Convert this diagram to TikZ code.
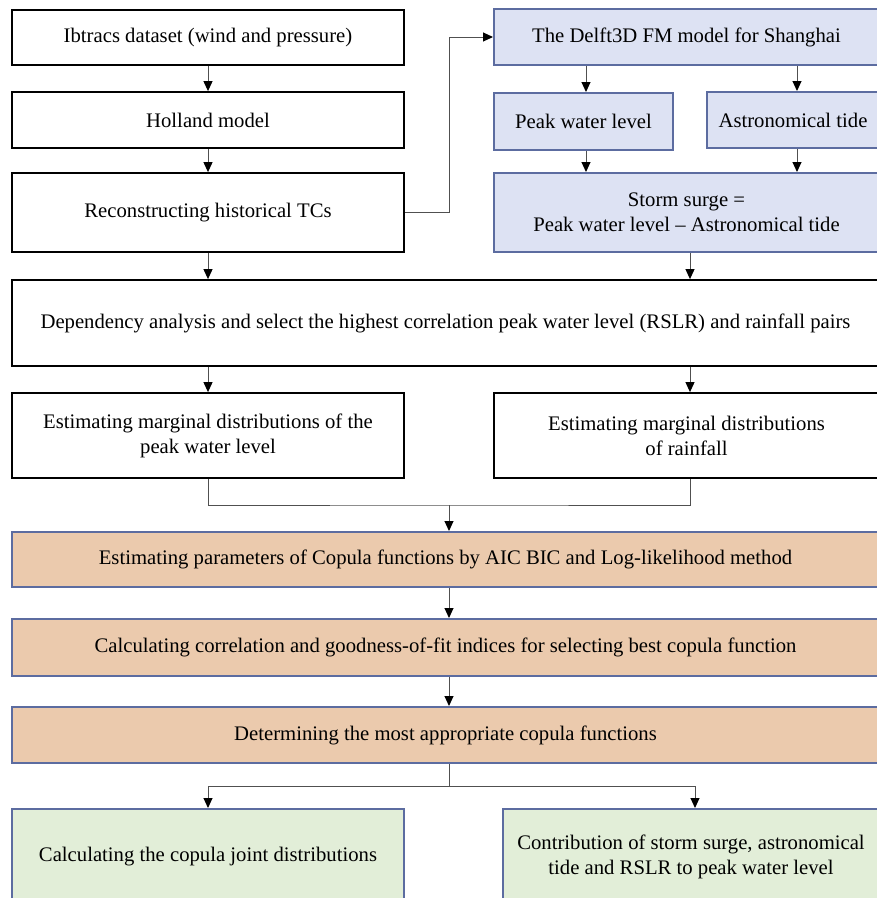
\documentclass[tikz,border=0pt]{standalone}
\usepackage{fontspec}
\setmainfont{Liberation Serif}
\usepackage{tikz}
\usetikzlibrary{calc, positioning, arrows.meta}
\definecolor{FrameBlue}{RGB}{92,108,160}
\definecolor{ModelBlue}{RGB}{221,226,243}
\definecolor{CopulaTan}{RGB}{235,202,173}
\definecolor{ResultGreen}{RGB}{226,238,216}
\definecolor{lineGrey}{RGB}{80,80,80}

\begin{document}
\begin{tikzpicture}[
  x=1pt, y=-1pt,
  font=\fontsize{20.7}{25}\selectfont,
  plainbox/.style={draw=black, line width=1.8pt, fill=white, inner sep=0pt, align=center},
  modelbox/.style={draw=FrameBlue, line width=2pt, fill=ModelBlue, inner sep=0pt, align=center},
  copulabox/.style={draw=FrameBlue, line width=2pt, fill=CopulaTan, inner sep=0pt, align=center},
  resultbox/.style={draw=FrameBlue, line width=2pt, fill=ResultGreen, inner sep=0pt, align=center},
  link/.style={draw=lineGrey, line width=1pt},
  arr/.style={link, -{Triangle[length=10pt,width=9pt,color=black]}},
]
\useasboundingbox (0,0) rectangle (877,898);

% --- Left column: TC reconstruction -------------------------------
\node[plainbox, minimum width=392pt, minimum height=55pt] (ibtracs) at (208,37.5) {Ibtracs dataset (wind and pressure)};
\node[plainbox, minimum width=392pt, minimum height=56pt] (holland) at (208,120) {Holland model};
\node[plainbox, minimum width=392pt, minimum height=79pt] (recon) at (208,212.5) {Reconstructing historical TCs};

% --- Right column: hydrodynamic model ------------------------------
\node[modelbox, minimum width=385pt, minimum height=56pt] (delft) at (686.5,37) {The Delft3D FM model for Shanghai};
\node[modelbox, minimum width=179pt, minimum height=57pt] (peak) at (583.5,121.5) {Peak water level};
\node[modelbox, minimum width=172pt, minimum height=56pt] (astro) at (793,120) {Astronomical tide};
\node[modelbox, minimum width=385pt, minimum height=79pt] (surge) at (686.5,212.5) {Storm surge =\\Peak water level -- Astronomical tide};

% --- Dependency and marginals --------------------------------------
\node[plainbox, minimum width=867pt, minimum height=86pt] (depend) at (445.5,323) {Dependency analysis and select the highest correlation peak water level (RSLR) and rainfall pairs};
\node[plainbox, minimum width=392pt, minimum height=85pt] (margwl) at (208,435.5) {Estimating marginal distributions of the\\peak water level};
\node[plainbox, minimum width=385pt, minimum height=85pt] (margrf) at (686.5,435.5) {Estimating marginal distributions\\of rainfall};

% --- Copula steps ---------------------------------------------------
\node[copulabox, minimum width=867pt, minimum height=55pt] (params) at (445.5,559.5) {Estimating parameters of Copula functions by AIC BIC and Log-likelihood method};
\node[copulabox, minimum width=867pt, minimum height=57pt] (gof) at (445.5,647.5) {Calculating correlation and goodness-of-fit indices for selecting best copula function};
\node[copulabox, minimum width=867pt, minimum height=56pt] (best) at (445.5,735) {Determining the most appropriate copula functions};

% --- Results ---------------------------------------------------------
\node[resultbox, minimum width=392pt, minimum height=96pt] (joint) at (208,857) {Calculating the copula joint distributions};
\node[resultbox, minimum width=376pt, minimum height=96pt] (contrib) at (691,857) {Contribution of storm surge, astronomical\\tide and RSLR to peak water level};

% --- Connectors -------------------------------------------------------
\draw[arr] (ibtracs) -- (holland);
\draw[arr] (holland) -- (recon);
\draw[arr] (recon.east) -- ++(45,0) |- (delft.west);
\draw[arr] (delft.south -| 586,0) -- (peak.north -| 586,0);
\draw[arr] (delft.south -| 797,0) -- (astro.north -| 797,0);
\draw[arr] (peak.south -| 586,0) -- (surge.north -| 586,0);
\draw[arr] (astro.south -| 797,0) -- (surge.north -| 797,0);
\draw[arr] (recon.south) -- (recon.south |- depend.north);
\draw[arr] (surge.south -| 690,0) -- (depend.north -| 690,0);
\draw[arr] (depend.south -| margwl) -- (margwl);
\draw[arr] (depend.south -| 690,0) -- (margrf.north -| 690,0);

\coordinate (merge) at (449,505);
\coordinate (split) at (449,786);
\draw[link] (margwl.south) |- (merge) -| (margrf.south -| 690,0);
\draw[arr] (merge) -- (params.north -| merge);
\draw[arr] (params.south -| merge) -- (gof.north -| merge);
\draw[arr] (gof.south -| merge) -- (best.north -| merge);
\draw[link] (best.south -| split) -- (split);
\draw[arr] (split) -| (joint.north);
\draw[arr] (split) -| (contrib.north -| 695,0);
\end{tikzpicture}
\end{document}
